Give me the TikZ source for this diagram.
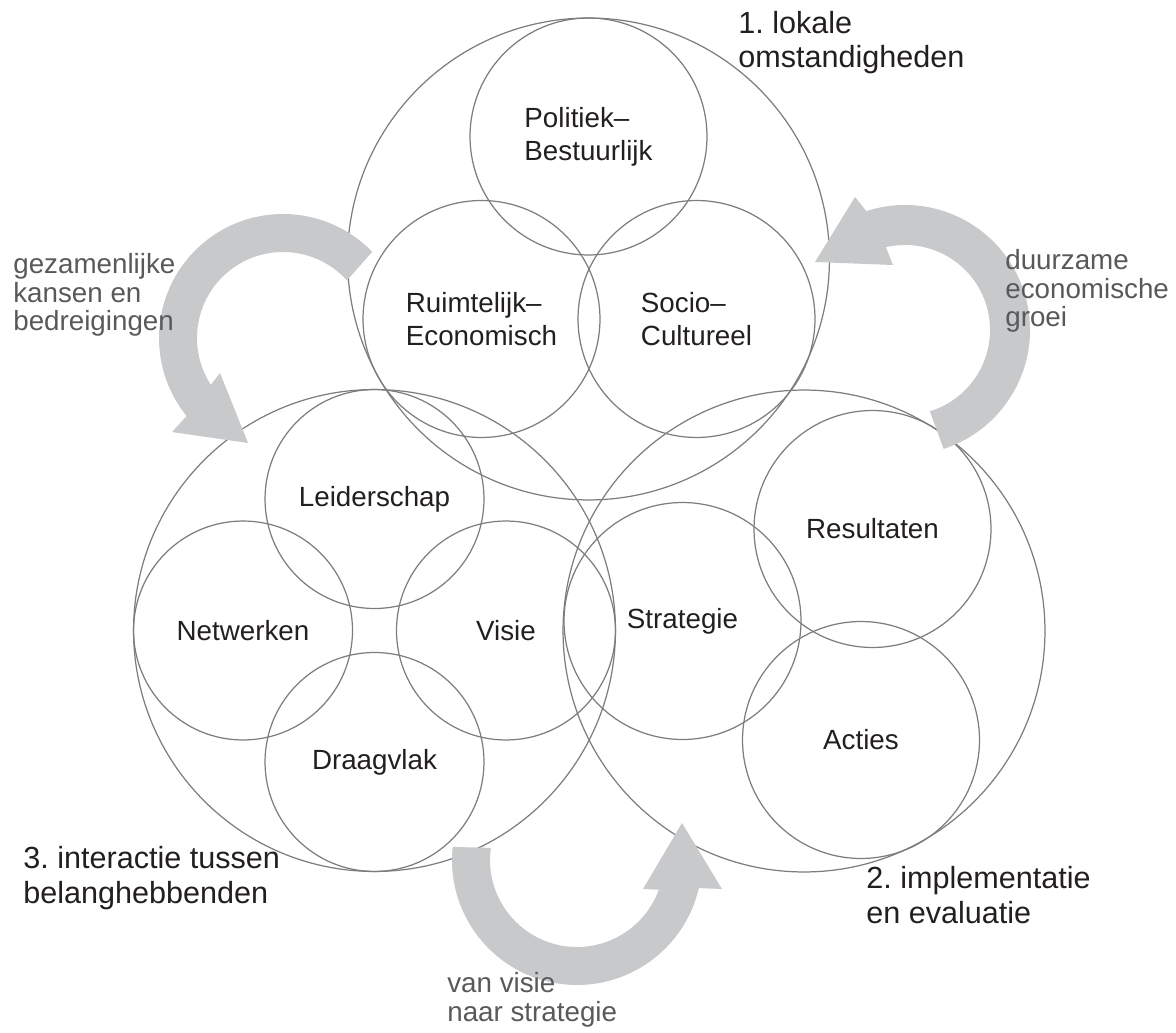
\documentclass[tikz,border=0pt]{standalone}
\usepackage{fontspec}
\setmainfont{Liberation Sans}
\usetikzlibrary{calc}
\definecolor{linegray}{RGB}{125,125,125}
\definecolor{arrowgray}{RGB}{200,201,203}
\definecolor{textdark}{RGB}{35,31,32}
\definecolor{textgray}{RGB}{88,89,91}
\frenchspacing

\begin{document}
\begin{tikzpicture}[x=0.02cm,y=0.02cm,node distance=2.63cm,
    big node/.style={circle,draw=linegray,line width=0.7pt,minimum size=9.64cm,inner sep=0pt},
    sub node/.style={circle,draw=linegray,line width=0.7pt,minimum size=4.74cm,inner sep=0pt,
                     align=left,text=textdark,font=\fontsize{15.8}{18.8}\selectfont},
    small node/.style={sub node,minimum size=4.38cm},
    group label/.style={anchor=base west,inner sep=0pt,align=left,text=textdark,
                        font=\fontsize{17.4}{19.9}\selectfont},
    flow label/.style={anchor=base west,inner sep=0pt,align=left,text=textgray,
                       font=\fontsize{15.8}{16.5}\selectfont},
    flow/.style={fill=arrowgray}]

\useasboundingbox (0,0) rectangle (1176,1032);

% 1. lokale omstandigheden
\node[big node] (1) at (588.5,773) {};
\node[sub node] (4) at (588.5,895.5) {Politiek–\\Bestuurlijk};
\node[sub node] (5) at (481.5,713) {Ruimtelijk–\\Economisch};
\node[sub node] (6) at (696.5,713) {Socio–\\Cultureel};

% 2. implementatie en evaluatie
\node[big node] (2) at (804,401) {};
\node[sub node] (7) at (682.5,411) {Strategie};
\node[sub node] (8) at (872.5,503) {Resultaten};
\node[sub node] (9) at (861,292) {Acties};

% 3. interactie tussen belanghebbenden
\node[big node] (3) at (374.5,401.5) {};
\node[small node] (10) [above of=3] {Leiderschap};
\node[small node] (11) [left of=3] {Netwerken};
\node[small node] (12) [right of=3] {Visie};
\node[small node] (13) [below of=3] {Draagvlak};

% grey arrows
\coordinate (arrow1) at (283,694);
\coordinate (arrow2) at (905,702);
\coordinate (arrow3) at (577,172);

\fill[flow] ($(arrow1)+(44:124)$) arc[start angle=44,end angle=219,radius=124]
  -- (172,600) -- (248,589) -- (220,659)
  -- ($(arrow1)+(213:86)$) arc[start angle=213,end angle=42,radius=86] -- cycle;
\fill[flow] ($(arrow2)+(-72:125)$) arc[start angle=-72,end angle=108,radius=125]
  -- (855,835) -- (815,770) -- (893,767)
  -- ($(arrow2)+(103:85)$) arc[start angle=103,end angle=-73,radius=85] -- cycle;
\fill[flow] ($(arrow3)+(174:125)$) arc[start angle=174,end angle=347,radius=125]
  -- (722,143) -- (682,209) -- (643,143)
  -- ($(arrow3)+(340:87)$) arc[start angle=340,end angle=172,radius=87] -- cycle;

% labels (anchored at the baseline of their last line)
\node[group label] (l1) at (738,964) {1. lokale\\omstandigheden};
\node[group label] (l2) at (866,109) {2. implementatie\\en evaluatie};
\node[group label] (l3) at (23,129) {3. interactie tussen\\belanghebbenden};

\node[flow label] (f1) at (13,701) {gezamenlijke\\kansen en\\bedreigingen};
\node[flow label] (f2) at (1005,705) {duurzame\\economische\\groei};
\node[flow label] (f3) at (447,11) {van visie\\naar strategie};

\end{tikzpicture}
\end{document}
